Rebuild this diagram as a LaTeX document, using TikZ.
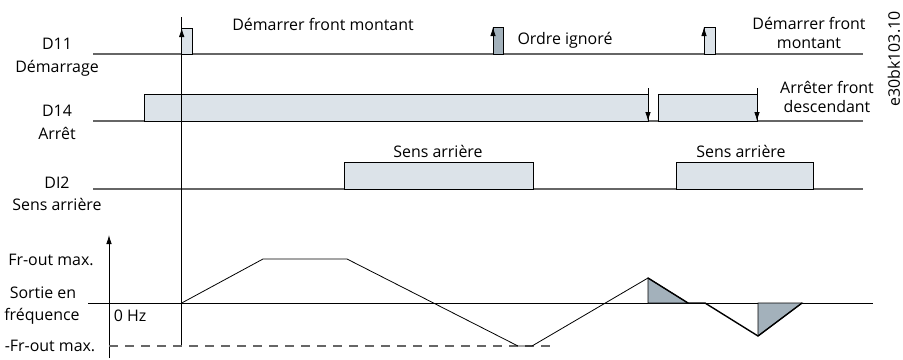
\documentclass[tikz,border=0pt]{standalone}
\usepackage{fontspec}
\setmainfont{Open Sans}
\usetikzlibrary{arrows.meta}
\definecolor{boxfill}{HTML}{DCE3E9}
\definecolor{darkfill}{HTML}{A3B1BB}
\definecolor{sigline}{HTML}{666666}
\begin{document}
\begin{tikzpicture}[x=1bp,y=-1bp,
  sig/.style={draw=sigline,line width=1.3bp},
  pulsebox/.style={draw=black,line width=0.8bp,fill=boxfill},
  darkbox/.style={draw=black,line width=0.8bp,fill=darkfill},
  lbl/.style={font=\fontsize{16}{19}\selectfont,inner sep=0pt,align=center},
  arr/.style={-{Latex[length=9bp,width=5.5bp]},line width=0.8bp},
  thin/.style={line width=0.8bp}]
\useasboundingbox (0,0) rectangle (903,359);
% signal baselines
\draw[sig] (93,54) -- (863,54);
\draw[sig] (93,121) -- (863,121);
\draw[sig] (93,189) -- (863,189);
% D11 pulses
\draw[pulsebox] (181.7,28) rectangle (192,54);
\draw[darkbox] (493,27) rectangle (503,54);
\draw[pulsebox] (704,27) rectangle (715,54);
% D14 boxes
\draw[pulsebox] (144,94) rectangle (648,121);
\draw[pulsebox] (658,94) rectangle (757,121);
% DI2 boxes
\draw[pulsebox] (344,162) rectangle (533,189);
\draw[pulsebox] (676,162) rectangle (813,189);
% main time marker
\coordinate (t0top) at (181.7,17);
\coordinate (t0bot) at (181.7,346);
\draw[thin] (t0top) -- (t0bot);
% edge arrows
\coordinate (a1b) at (181.7,54); \coordinate (a1t) at (181.7,28);
\coordinate (a2b) at (493,54);   \coordinate (a2t) at (493,27);
\coordinate (a3b) at (704,54);   \coordinate (a3t) at (704,27);
\draw[arr] (a1b) -- (a1t);
\draw[arr] (a2b) -- (a2t);
\draw[arr] (a3b) -- (a3t);
\coordinate (d1t) at (648,88); \coordinate (d1b) at (648,121);
\coordinate (d2t) at (757,88); \coordinate (d2b) at (757,121);
\draw[arr] (d1t) -- (d1b);
\draw[arr] (d2t) -- (d2b);
% frequency chart
\coordinate (axb) at (109,358); \coordinate (axt) at (109,235);
\draw[arr] (axb) -- (axt);
\draw[thin] (88,303) -- (873,303);
\draw[sigline,line width=1.1bp,dash pattern=on 9bp off 7bp] (109,346) -- (553,346);
\draw[darkbox] (648,278) -- (648,303) -- (688,303) -- cycle;
\draw[darkbox] (758,303) -- (758,336) -- (802,303) -- cycle;
\draw[thin] (181.7,303) -- (263,259) -- (347,259) -- (518,346) -- (532,346) -- (648,278);
\draw[line width=1.4bp] (648,278) -- (688,303) -- (705,303) -- (758,336);
\draw[line width=1.4bp] (758,336) -- (802,303);
% left labels
\node[lbl] (l11) at (57,44) {D11};
\node[lbl] (l11b) at (57,68) {Démarrage};
\node[lbl] (l14) at (57,111) {D14};
\node[lbl] (l14b) at (57,133) {Arrêt};
\node[lbl] (l2) at (57,183) {DI2};
\node[lbl] (l2b) at (57,204) {Sens arrière};
\node[lbl] (fmax) at (51,260) {Fr-out max.};
\node[lbl] (so1) at (43,293) {Sortie en};
\node[lbl] (so2) at (42,316) {fréquence};
\node[lbl] (hz) at (130,316) {0 Hz};
\node[lbl] (fmin) at (50,346) {-Fr-out max.};
% top labels
\node[lbl] (dm1) at (323,24) {Démarrer front montant};
\node[lbl] (oi) at (565,40) {Ordre ignoré};
\node[lbl] (dm2) at (809,33) {Démarrer front\\montant};
\node[lbl] (af) at (827,97) {Arrêter front\\descendant};
\node[lbl] (sa1) at (438,151) {Sens arrière};
\node[lbl] (sa2) at (741,151) {Sens arrière};
\node[lbl,rotate=90] (ref) at (894,59) {e30bk103.10};
\end{tikzpicture}
\end{document}
